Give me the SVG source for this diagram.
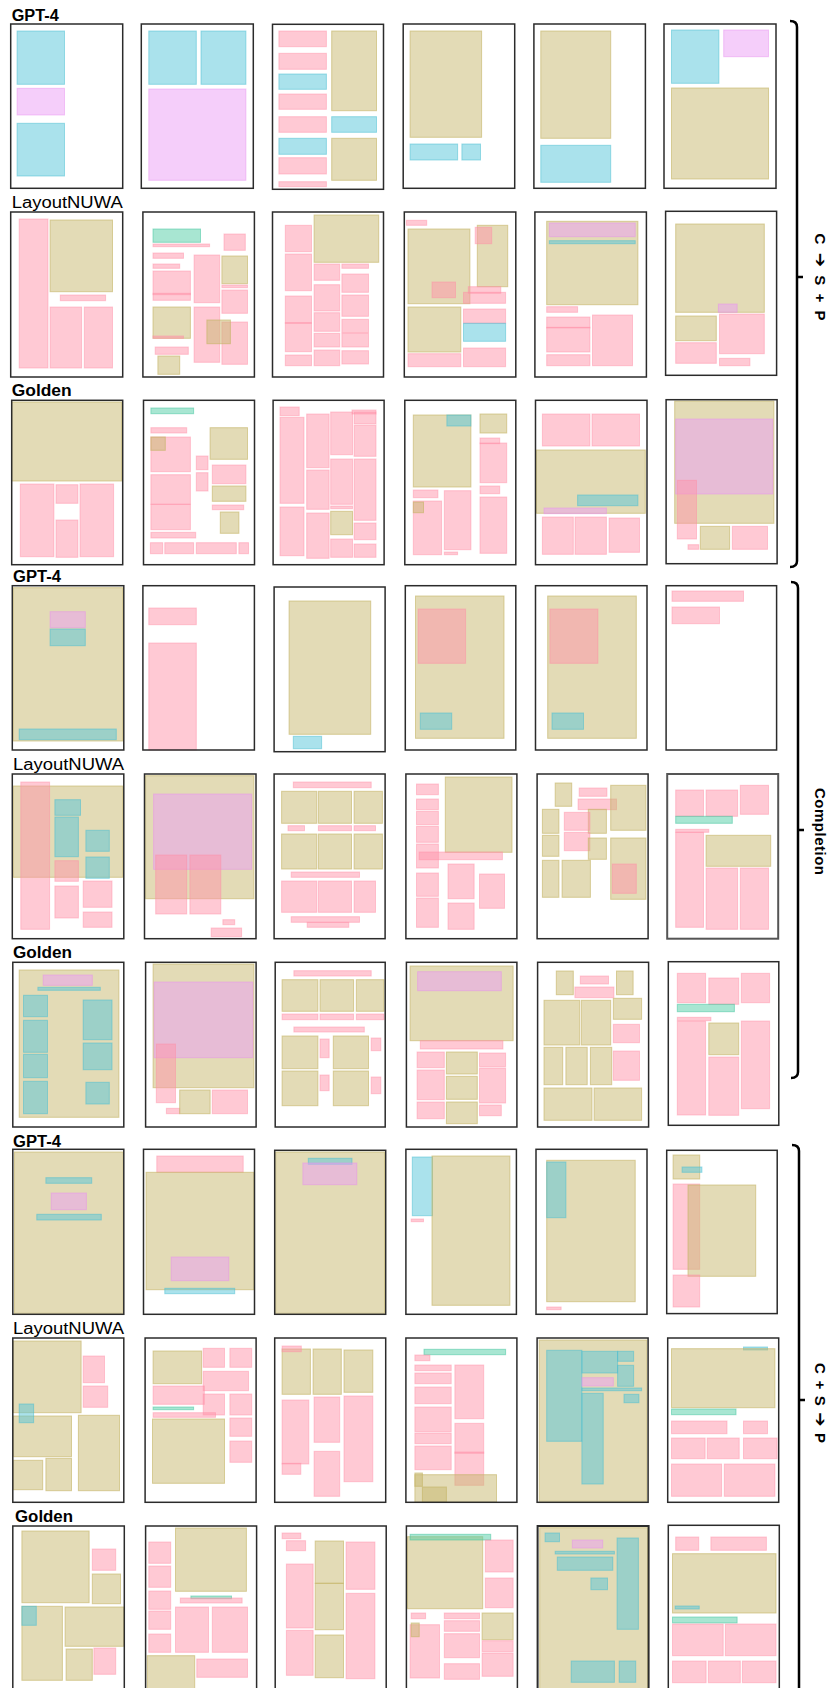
<svg xmlns="http://www.w3.org/2000/svg" width="836" height="1688" viewBox="0 0 836 1688">
<style>
.f{fill:none;stroke:#2b2b2b;stroke-width:1.5}
.t{fill:rgb(200,184,110);fill-opacity:.5;stroke:rgb(196,180,100);stroke-opacity:.6;stroke-width:1}
.p{fill:rgb(255,147,169);fill-opacity:.5;stroke:rgb(255,140,165);stroke-opacity:.45;stroke-width:1}
.b{fill:rgb(85,197,217);fill-opacity:.5;stroke:rgb(70,190,210);stroke-opacity:.5;stroke-width:1}
.m{fill:rgb(235,157,245);fill-opacity:.5;stroke:rgb(230,140,240);stroke-opacity:.45;stroke-width:1}
.g{fill:rgb(81,205,165);fill-opacity:.5;stroke:rgb(60,195,155);stroke-opacity:.5;stroke-width:1}
.lb{font-family:"Liberation Sans","DejaVu Sans",sans-serif;font-size:16px;font-weight:bold;fill:#000}
.ln{font-family:"Liberation Sans","DejaVu Sans",sans-serif;font-size:16px;fill:#000}
.rl{font-family:"Liberation Sans","DejaVu Sans",sans-serif;font-size:15px;font-weight:bold;fill:#000}
.ar{font-family:"DejaVu Sans",sans-serif;font-size:17px;font-weight:bold}
.br{fill:none;stroke:#000;stroke-width:2.5}
</style>
<rect x="0" y="0" width="836" height="1688" fill="#fff"/>

<g id="labels">
<text class="lb" x="11.7" y="20.7" textLength="47" lengthAdjust="spacingAndGlyphs">GPT-4</text>
<text class="ln" x="11.7" y="208" textLength="111" lengthAdjust="spacingAndGlyphs">LayoutNUWA</text>
<text class="lb" x="11.7" y="396" textLength="60" lengthAdjust="spacingAndGlyphs">Golden</text>
<text class="lb" x="13" y="582" textLength="48" lengthAdjust="spacingAndGlyphs">GPT-4</text>
<text class="ln" x="13" y="769.5" textLength="111" lengthAdjust="spacingAndGlyphs">LayoutNUWA</text>
<text class="lb" x="13" y="957.5" textLength="59" lengthAdjust="spacingAndGlyphs">Golden</text>
<text class="lb" x="13" y="1146.5" textLength="48" lengthAdjust="spacingAndGlyphs">GPT-4</text>
<text class="ln" x="13" y="1333.5" textLength="111" lengthAdjust="spacingAndGlyphs">LayoutNUWA</text>
<text class="lb" x="15" y="1521.5" textLength="58" lengthAdjust="spacingAndGlyphs">Golden</text>
</g>

<!-- Row 1 -->
<g id="r1c1"><rect class="b" x="17.1" y="31" width="47.4" height="53.3"/><rect class="m" x="17.1" y="88.3" width="47.4" height="26.7"/><rect class="b" x="17.1" y="123.3" width="47.4" height="52.7"/><rect class="f" x="10.7" y="24" width="112" height="164.3"/></g>
<g id="r1c2"><rect class="b" x="148.8" y="31" width="47.5" height="53.3"/><rect class="b" x="201" y="31" width="44.9" height="53.3"/><rect class="m" x="148.8" y="89" width="97.1" height="91.3"/><rect class="f" x="141.3" y="24" width="112" height="164.3"/></g>
<g id="r1c3"><rect class="p" x="278.9" y="31" width="47.5" height="15.7"/><rect class="p" x="278.9" y="53.3" width="47.5" height="16"/><rect class="b" x="278.9" y="74" width="47.5" height="15.3"/><rect class="p" x="278.9" y="94" width="47.5" height="15.3"/><rect class="p" x="278.9" y="116.7" width="47.5" height="15.6"/><rect class="b" x="278.9" y="138.3" width="47.5" height="16"/><rect class="p" x="278.9" y="157.7" width="47.5" height="16.3"/><rect class="p" x="278.9" y="181.7" width="47.5" height="5"/><rect class="t" x="331.7" y="31" width="44.8" height="79.7"/><rect class="b" x="331.7" y="116.7" width="44.8" height="15.6"/><rect class="t" x="331.7" y="138.3" width="44.8" height="42"/><rect class="f" x="272.5" y="24.3" width="111" height="165"/></g>
<g id="r1c4"><rect class="t" x="410.1" y="31" width="71.5" height="106.3"/><rect class="b" x="410.1" y="144" width="47.5" height="16"/><rect class="b" x="461.9" y="144" width="18.6" height="16"/><rect class="f" x="403.2" y="24" width="111.5" height="164.3"/></g>
<g id="r1c5"><rect class="t" x="540.8" y="31" width="69.9" height="107.3"/><rect class="b" x="540.8" y="145.3" width="69.9" height="37"/><rect class="f" x="533.9" y="24" width="111.5" height="164.3"/></g>
<g id="r1c6"><rect class="b" x="671.5" y="30" width="47.4" height="53.3"/><rect class="m" x="723.7" y="30" width="44.8" height="26.7"/><rect class="t" x="671.5" y="88" width="97" height="91"/><rect class="f" x="664" y="24" width="112" height="164.3"/></g>

<!-- Row 2 -->
<g id="r2c1"><rect class="p" x="19.2" y="219" width="28.8" height="149"/><rect class="t" x="50.1" y="220" width="62.4" height="71.7"/><rect class="p" x="60.3" y="295" width="45.3" height="5.7"/><rect class="p" x="50.1" y="307" width="31.5" height="61"/><rect class="p" x="84.3" y="307" width="28.2" height="61"/><rect class="f" x="10.7" y="212" width="112" height="165"/></g>
<g id="r2c2"><rect class="g" x="153" y="229" width="47.5" height="13.3"/><rect class="p" x="153" y="244" width="56.6" height="2.7"/><rect class="p" x="224" y="234" width="21.3" height="16.3"/><rect class="p" x="153" y="253" width="30.5" height="5.3"/><rect class="p" x="153" y="264" width="26.7" height="4.3"/><rect class="p" x="153" y="271" width="37.4" height="23.7"/><rect class="p" x="153" y="293.3" width="37.4" height="7"/><rect class="p" x="194.1" y="255" width="25.6" height="47.7"/><rect class="t" x="221.9" y="256" width="25.6" height="27.7"/><rect class="p" x="221.9" y="285" width="25.6" height="2.7"/><rect class="p" x="221.9" y="290" width="25.6" height="23.3"/><rect class="t" x="153" y="307" width="37.4" height="31.3"/><rect class="p" x="153" y="336" width="30.5" height="2.3"/><rect class="p" x="194.1" y="307" width="25.6" height="55.3"/><rect class="p" x="221.9" y="322" width="25.6" height="42.3"/><rect class="t" x="206.9" y="320" width="23.5" height="23.7"/><rect class="p" x="155.2" y="347" width="33.1" height="7.3"/><rect class="t" x="157.9" y="356" width="21.8" height="18.3"/><rect class="f" x="142.9" y="212" width="111.5" height="165"/></g>
<g id="r2c3"><rect class="p" x="285.3" y="225.3" width="26.2" height="26.4"/><rect class="t" x="314.1" y="215" width="64.6" height="47.3"/><rect class="p" x="285.3" y="254" width="26.2" height="36.7"/><rect class="p" x="314.1" y="264" width="25.6" height="16.3"/><rect class="p" x="341.9" y="264" width="26.6" height="4.3"/><rect class="p" x="341.9" y="274" width="26.6" height="18.3"/><rect class="p" x="314.1" y="284.7" width="25.6" height="26.3"/><rect class="p" x="341.9" y="295" width="26.6" height="21.3"/><rect class="p" x="285.3" y="296" width="26.2" height="27.3"/><rect class="p" x="285.3" y="322.7" width="26.2" height="29"/><rect class="p" x="314.1" y="312.7" width="25.6" height="18.6"/><rect class="p" x="341.9" y="319.3" width="26.6" height="13.4"/><rect class="p" x="314.1" y="333.3" width="25.6" height="13.7"/><rect class="p" x="341.9" y="333.3" width="26.6" height="13.7"/><rect class="p" x="314.1" y="350" width="25.6" height="15.7"/><rect class="p" x="341.9" y="350.7" width="26.6" height="13.3"/><rect class="p" x="285.3" y="355" width="26.2" height="10.7"/><rect class="f" x="272.5" y="212" width="111" height="165"/></g>
<g id="r2c4"><rect class="p" x="406.4" y="220.3" width="20.3" height="5"/><rect class="t" x="408" y="229" width="61.9" height="74.7"/><rect class="t" x="477.3" y="225.3" width="30.4" height="61.4"/><rect class="p" x="475.2" y="227.3" width="16.5" height="16.4"/><rect class="p" x="432" y="282" width="23.5" height="15.7"/><rect class="p" x="468.3" y="286.7" width="32.5" height="6.6"/><rect class="p" x="463.5" y="292.3" width="42.1" height="11"/><rect class="t" x="408" y="307" width="52.8" height="45"/><rect class="p" x="463.5" y="309" width="42.1" height="14.3"/><rect class="b" x="463.5" y="323.3" width="42.1" height="18"/><rect class="p" x="408" y="353.7" width="52.8" height="13"/><rect class="p" x="463.5" y="348" width="42.1" height="18.7"/><rect class="f" x="404.3" y="212" width="111.5" height="165"/></g>
<g id="r2c5"><rect class="t" x="546.7" y="221.3" width="91.2" height="83.4"/><rect class="m" x="549.3" y="223" width="85.9" height="13.7"/><rect class="b" x="549.3" y="240.7" width="85.9" height="3"/><rect class="p" x="546.7" y="306.7" width="30.9" height="5.6"/><rect class="p" x="546.7" y="317" width="43.2" height="11"/><rect class="p" x="546.7" y="327.3" width="43.2" height="24.7"/><rect class="p" x="592.5" y="315" width="40" height="50.7"/><rect class="p" x="546.7" y="354.7" width="43.2" height="11"/><rect class="f" x="534.9" y="212" width="111.5" height="165"/></g>
<g id="r2c6"><rect class="t" x="675.7" y="224" width="88.6" height="88.3"/><rect class="m" x="718.4" y="304" width="18.7" height="8.3"/><rect class="t" x="675.7" y="316" width="40.6" height="24.7"/><rect class="p" x="719.5" y="314" width="44.8" height="39.7"/><rect class="p" x="675.7" y="342.7" width="40.6" height="20.6"/><rect class="p" x="719.5" y="358.3" width="30.4" height="7.4"/><rect class="f" x="665.6" y="211.3" width="111" height="164"/></g>

<!-- Row 3 -->
<g id="r3c1"><rect class="t" x="11.7" y="402" width="109.9" height="79"/><rect class="p" x="20.3" y="484" width="33.6" height="72.7"/><rect class="p" x="56" y="484.7" width="21.9" height="18.6"/><rect class="p" x="56" y="520" width="21.9" height="37.3"/><rect class="p" x="80" y="484" width="33.6" height="72.7"/><rect class="f" x="11.7" y="400.3" width="111" height="164.4"/></g>
<g id="r3c2"><rect class="g" x="150.9" y="408" width="42.7" height="5.7"/><rect class="p" x="150.9" y="427.7" width="35.8" height="5.3"/><rect class="p" x="150.9" y="437" width="39.5" height="34.7"/><rect class="t" x="150.9" y="437" width="14.4" height="13.3"/><rect class="t" x="210.1" y="427.7" width="37.4" height="31.6"/><rect class="p" x="196.3" y="456" width="11.7" height="13.7"/><rect class="p" x="212.3" y="465" width="33.6" height="18.7"/><rect class="p" x="196.3" y="472.7" width="11.7" height="18.3"/><rect class="p" x="150.9" y="474.7" width="39.5" height="29.6"/><rect class="p" x="150.9" y="504.3" width="39.5" height="25.4"/><rect class="t" x="212.3" y="486" width="33.6" height="15.3"/><rect class="p" x="212.3" y="505" width="31.4" height="4.7"/><rect class="t" x="220.3" y="512" width="18.6" height="21.3"/><rect class="p" x="150.9" y="532.3" width="44.8" height="5.7"/><rect class="p" x="150.4" y="542.7" width="12.3" height="11"/><rect class="p" x="164.8" y="542.7" width="28.8" height="11"/><rect class="p" x="196.3" y="542.7" width="40" height="11"/><rect class="p" x="238.9" y="542.7" width="9.6" height="11"/><rect class="f" x="143.5" y="400.3" width="111" height="164.4"/></g>
<g id="r3c3"><rect class="p" x="280" y="407" width="19.2" height="8.7"/><rect class="p" x="280" y="417.3" width="24" height="86"/><rect class="p" x="306.7" y="414" width="22.4" height="53.7"/><rect class="p" x="330.7" y="412" width="21.8" height="42.7"/><rect class="p" x="352" y="410" width="24" height="4"/><rect class="p" x="354.1" y="412" width="21.9" height="12"/><rect class="p" x="354.1" y="425.3" width="21.9" height="31"/><rect class="p" x="306.7" y="470" width="22.4" height="39.3"/><rect class="p" x="330.7" y="459" width="21.8" height="45.3"/><rect class="p" x="354.1" y="459" width="21.9" height="61.3"/><rect class="p" x="330.7" y="506" width="21.8" height="2.7"/><rect class="p" x="280" y="507" width="24" height="48.7"/><rect class="p" x="306.7" y="513" width="22.4" height="45.3"/><rect class="t" x="330.7" y="511.3" width="21.8" height="23.4"/><rect class="p" x="354.1" y="523" width="21.9" height="16.7"/><rect class="p" x="330.7" y="539" width="21.8" height="18.3"/><rect class="p" x="354.1" y="544" width="21.9" height="13.3"/><rect class="f" x="273.1" y="400.3" width="111" height="164.4"/></g>
<g id="r3c4"><rect class="t" x="413.3" y="415" width="57.6" height="72"/><rect class="b" x="446.9" y="415" width="24" height="11"/><rect class="t" x="480" y="414" width="26.7" height="19"/><rect class="p" x="480" y="438" width="19.7" height="5.7"/><rect class="p" x="480" y="443" width="26.7" height="39.7"/><rect class="p" x="413.3" y="490" width="24.6" height="7.7"/><rect class="p" x="444.3" y="490.7" width="26.6" height="59"/><rect class="p" x="480" y="486" width="19.7" height="7.7"/><rect class="p" x="480" y="497" width="26.7" height="56.3"/><rect class="p" x="413.3" y="501" width="28.3" height="53.7"/><rect class="t" x="413.3" y="502" width="10.2" height="10.7"/><rect class="p" x="444.3" y="552" width="13.3" height="2.7"/><rect class="f" x="404.8" y="400.3" width="111" height="164.4"/></g>
<g id="r3c5"><rect class="p" x="542.4" y="414" width="47.5" height="32"/><rect class="p" x="592" y="414" width="47.5" height="32"/><rect class="t" x="536.5" y="450" width="108.8" height="63.3"/><rect class="b" x="577.6" y="495" width="60.3" height="10.7"/><rect class="m" x="544" y="508" width="62.4" height="5.7"/><rect class="p" x="542.4" y="517" width="30.9" height="37.3"/><rect class="p" x="575" y="517" width="31.4" height="37.3"/><rect class="p" x="609.1" y="518" width="30.4" height="34.3"/><rect class="f" x="535.5" y="400.3" width="111.5" height="164.4"/></g>
<g id="r3c6"><rect class="t" x="674.7" y="401" width="99.2" height="122.3"/><rect class="m" x="675.7" y="419" width="97.1" height="75"/><rect class="p" x="677.3" y="480.3" width="19.2" height="58.7"/><rect class="t" x="700.3" y="526.3" width="29.3" height="23"/><rect class="p" x="732.3" y="526.3" width="35.2" height="23"/><rect class="p" x="688" y="544.7" width="10.7" height="4.6"/><rect class="f" x="666.1" y="399.7" width="111" height="164"/></g>

<!-- Row 4 -->
<g id="r4c1"><rect class="t" x="13.3" y="587.7" width="109.4" height="153.3"/><rect class="m" x="50.1" y="611.7" width="35.2" height="16"/><rect class="b" x="50.1" y="629" width="35.2" height="16.7"/><rect class="b" x="19.2" y="729" width="97.1" height="10.7"/><rect class="f" x="12.3" y="585.7" width="111.5" height="164.3"/></g>
<g id="r4c2"><rect class="p" x="148.8" y="608" width="47.5" height="16.7"/><rect class="p" x="148.8" y="643" width="47.5" height="107"/><rect class="f" x="142.9" y="585.7" width="111.5" height="164.3"/></g>
<g id="r4c3"><rect class="t" x="289.1" y="601" width="81.6" height="133.3"/><rect class="b" x="293.3" y="736.3" width="28.3" height="12.4"/><rect class="f" x="274.1" y="587" width="111" height="164.7"/></g>
<g id="r4c4"><rect class="t" x="415.5" y="596" width="88.5" height="142.3"/><rect class="p" x="418.1" y="609" width="47.5" height="54.3"/><rect class="b" x="420.3" y="713" width="31.4" height="16.3"/><rect class="f" x="405.3" y="585.7" width="110.5" height="164.3"/></g>
<g id="r4c5"><rect class="t" x="547.7" y="596" width="88.6" height="142.3"/><rect class="p" x="549.9" y="609" width="48" height="54.3"/><rect class="b" x="552" y="713" width="31.5" height="16.3"/><rect class="f" x="535.5" y="585.7" width="111.5" height="164.3"/></g>
<g id="r4c6"><rect class="p" x="672" y="591" width="71.5" height="10.3"/><rect class="p" x="672" y="607" width="47.5" height="16.7"/><rect class="f" x="666.1" y="585.7" width="110.5" height="164.3"/></g>

<!-- Row 5 -->
<g id="r5c1"><rect class="t" x="13.3" y="786" width="109.4" height="91.3"/><rect class="p" x="20.8" y="782" width="28.8" height="147.3"/><rect class="b" x="54.9" y="799.7" width="25.6" height="15.6"/><rect class="b" x="54.9" y="817" width="23.5" height="39.7"/><rect class="b" x="85.9" y="830.3" width="23.4" height="21"/><rect class="p" x="54.9" y="860.7" width="23.5" height="20.6"/><rect class="b" x="85.9" y="857" width="23.4" height="21.3"/><rect class="p" x="54.9" y="886" width="23.5" height="32"/><rect class="p" x="83.2" y="881" width="28.8" height="26.3"/><rect class="p" x="83.2" y="912" width="28.8" height="15.3"/><rect class="f" x="12.3" y="774" width="111.5" height="164.7"/></g>
<g id="r5c2"><rect class="t" x="145.6" y="775.7" width="108.3" height="123"/><rect class="m" x="153.6" y="794" width="98.1" height="75.3"/><rect class="p" x="155.7" y="855" width="31" height="59"/><rect class="p" x="189.9" y="855" width="30.9" height="59"/><rect class="p" x="222.9" y="919.7" width="11.8" height="5"/><rect class="p" x="211.2" y="928" width="30.4" height="8.7"/><rect class="f" x="144.5" y="774" width="111.5" height="164.7"/></g>
<g id="r5c3"><rect class="p" x="293.3" y="782" width="77.9" height="5.7"/><rect class="t" x="281.6" y="791.3" width="35.2" height="32"/><rect class="t" x="318.4" y="791.3" width="33.1" height="32"/><rect class="t" x="354.1" y="791.3" width="28.3" height="32"/><rect class="p" x="288" y="825.7" width="16.5" height="5"/><rect class="p" x="318.4" y="825.7" width="33.1" height="5"/><rect class="p" x="354.1" y="825.7" width="21.4" height="5"/><rect class="t" x="281.6" y="834" width="35.2" height="35"/><rect class="t" x="318.4" y="834" width="33.1" height="35"/><rect class="t" x="354.1" y="834" width="28.3" height="35"/><rect class="p" x="291.2" y="872" width="68.3" height="5.3"/><rect class="p" x="281.6" y="881" width="35.2" height="31.3"/><rect class="p" x="318.4" y="881" width="33.1" height="31.3"/><rect class="p" x="354.1" y="881" width="21.4" height="31.3"/><rect class="p" x="291.2" y="916.7" width="68.3" height="5.6"/><rect class="p" x="307.2" y="922.3" width="41.6" height="5"/><rect class="f" x="274.1" y="774" width="111" height="164.7"/></g>
<g id="r5c4"><rect class="p" x="416.5" y="784" width="21.9" height="10.7"/><rect class="t" x="445.3" y="777" width="66.7" height="75.3"/><rect class="p" x="416.5" y="799" width="21.9" height="10.7"/><rect class="p" x="416.5" y="811.3" width="21.9" height="13.4"/><rect class="p" x="416.5" y="826.3" width="21.9" height="16"/><rect class="p" x="416.5" y="844" width="21.9" height="24"/><rect class="p" x="419.2" y="852" width="83.2" height="7.7"/><rect class="p" x="416.5" y="873" width="21.9" height="23.3"/><rect class="p" x="416.5" y="898" width="21.9" height="29.3"/><rect class="p" x="448" y="864" width="26.1" height="34.7"/><rect class="p" x="479.5" y="874" width="25" height="34.3"/><rect class="p" x="448" y="903" width="26.1" height="26.3"/><rect class="f" x="405.9" y="774" width="111" height="164.7"/></g>
<g id="r5c5"><rect class="t" x="555.2" y="783" width="16.5" height="23.3"/><rect class="p" x="579.2" y="788" width="27.7" height="8.3"/><rect class="p" x="578.1" y="799" width="38.4" height="10.7"/><rect class="t" x="610.7" y="785.3" width="35.2" height="45"/><rect class="t" x="542.4" y="809.3" width="16.5" height="24"/><rect class="t" x="588.3" y="809.3" width="18.1" height="24"/><rect class="p" x="564.3" y="812.3" width="25.6" height="18"/><rect class="t" x="542.4" y="835.3" width="16.5" height="21"/><rect class="p" x="564.3" y="832.3" width="25.6" height="18.4"/><rect class="t" x="588.3" y="838" width="18.1" height="21.3"/><rect class="t" x="610.7" y="838" width="35.2" height="61.3"/><rect class="p" x="612.3" y="864" width="24" height="29.3"/><rect class="t" x="542.4" y="860.3" width="16.5" height="37"/><rect class="t" x="562.1" y="860.3" width="28.3" height="37"/><rect class="f" x="537.1" y="774" width="111" height="164.7"/></g>
<g id="r5c6"><rect class="p" x="675.7" y="790" width="27.8" height="26.3"/><rect class="p" x="706.1" y="790" width="31.5" height="26.3"/><rect class="p" x="740.3" y="785.3" width="28.2" height="29"/><rect class="g" x="675.7" y="816.3" width="56.6" height="7"/><rect class="p" x="675.7" y="829.3" width="33.1" height="3"/><rect class="p" x="675.7" y="832.3" width="27.8" height="95"/><rect class="t" x="706.1" y="835.3" width="64.6" height="31"/><rect class="p" x="706.1" y="868" width="31.5" height="61.3"/><rect class="p" x="740.3" y="868" width="28.2" height="61.3"/><rect class="f" x="667.2" y="774" width="111" height="164.7" style="stroke:#555;stroke-width:2"/></g>

<!-- Row 6 -->
<g id="r6c1"><rect class="t" x="19.2" y="970" width="99.7" height="147.3"/><rect class="m" x="43.2" y="975" width="49.1" height="10.3"/><rect class="b" x="37.9" y="987.3" width="62.4" height="3"/><rect class="b" x="23.5" y="995.3" width="24" height="21.4"/><rect class="b" x="23.5" y="1020.3" width="24" height="32"/><rect class="b" x="23.5" y="1054.3" width="24" height="23.4"/><rect class="b" x="23.5" y="1081.3" width="24" height="32.4"/><rect class="b" x="83.2" y="1000" width="28.8" height="39.7"/><rect class="b" x="83.2" y="1043" width="28.8" height="26.7"/><rect class="b" x="85.9" y="1082.3" width="23.4" height="21.7"/><rect class="f" x="12.8" y="962.3" width="111" height="164.7"/></g>
<g id="r6c2"><rect class="t" x="153.1" y="964" width="100.8" height="123.7"/><rect class="m" x="154.1" y="982" width="98.7" height="75.7"/><rect class="p" x="156.3" y="1044" width="19.2" height="58.7"/><rect class="p" x="166.4" y="1108.3" width="13.3" height="5.4"/><rect class="t" x="179.7" y="1090" width="30.4" height="23.7"/><rect class="p" x="212.3" y="1090" width="35.2" height="23.7"/><rect class="f" x="145.6" y="962.3" width="110.5" height="164.7"/></g>
<g id="r6c3"><rect class="p" x="293.9" y="970.7" width="77.3" height="5.3"/><rect class="t" x="282.1" y="979.7" width="35.8" height="31.6"/><rect class="t" x="320" y="979.7" width="33.6" height="31.6"/><rect class="t" x="356.3" y="979.7" width="27.7" height="31.6"/><rect class="p" x="282.1" y="1014" width="35.8" height="5.7"/><rect class="p" x="320" y="1014" width="33.6" height="5.7"/><rect class="p" x="356.3" y="1014" width="27.7" height="5.7"/><rect class="p" x="293.9" y="1027" width="70.4" height="5"/><rect class="t" x="282.1" y="1036" width="35.8" height="32.7"/><rect class="p" x="320" y="1039" width="9.1" height="18.7"/><rect class="t" x="333.3" y="1036" width="35.2" height="32.7"/><rect class="p" x="371.2" y="1038" width="9.6" height="12.7"/><rect class="t" x="282.1" y="1071" width="35.8" height="34.7"/><rect class="p" x="320" y="1075" width="9.1" height="15.7"/><rect class="t" x="333.3" y="1071" width="35.2" height="34.7"/><rect class="p" x="371.2" y="1077" width="9.6" height="16.7"/><rect class="f" x="275.2" y="962.3" width="110" height="164.7"/></g>
<g id="r6c4"><rect class="t" x="410.1" y="966" width="103" height="74.7"/><rect class="m" x="417.6" y="971.7" width="83.7" height="19"/><rect class="p" x="420.3" y="1040.7" width="82.6" height="8.3"/><rect class="p" x="417.1" y="1052" width="27.2" height="15.7"/><rect class="t" x="446.4" y="1052" width="30.9" height="22"/><rect class="p" x="479.5" y="1053" width="26.1" height="13.7"/><rect class="p" x="417.1" y="1070" width="27.2" height="29.7"/><rect class="t" x="446.4" y="1076.3" width="30.9" height="23"/><rect class="p" x="479.5" y="1068" width="26.1" height="35"/><rect class="p" x="417.1" y="1102" width="27.2" height="16.7"/><rect class="t" x="446.4" y="1102" width="30.9" height="21.7"/><rect class="p" x="479.5" y="1105" width="21.8" height="10.7"/><rect class="f" x="406.4" y="962.3" width="110.5" height="164.7"/></g>
<g id="r6c5"><rect class="t" x="556.3" y="971" width="17" height="23.7"/><rect class="p" x="580.3" y="976" width="28.2" height="8"/><rect class="t" x="616.5" y="971" width="16.6" height="23.7"/><rect class="p" x="574.9" y="987" width="39" height="10.7"/><rect class="t" x="544" y="1000.3" width="35.7" height="44.7"/><rect class="t" x="581.3" y="1000.3" width="29.4" height="44.7"/><rect class="t" x="613.3" y="998.3" width="28.3" height="21"/><rect class="p" x="613.3" y="1024.3" width="26.2" height="18.4"/><rect class="t" x="544" y="1047.3" width="18.7" height="37.4"/><rect class="t" x="565.9" y="1047.3" width="21.3" height="37.4"/><rect class="t" x="590.4" y="1047.3" width="21.3" height="37.4"/><rect class="p" x="613.3" y="1051" width="26.2" height="29.3"/><rect class="t" x="544" y="1088" width="48" height="32.3"/><rect class="t" x="594.1" y="1088" width="47.5" height="32.3"/><rect class="f" x="537.6" y="962.3" width="111" height="164.7"/></g>
<g id="r6c6"><rect class="p" x="677.3" y="973.3" width="28.3" height="29.4"/><rect class="p" x="708.8" y="978" width="29.9" height="26.3"/><rect class="p" x="741.3" y="973.3" width="28.3" height="29.4"/><rect class="g" x="677.3" y="1004.3" width="57.1" height="7.4"/><rect class="p" x="677.3" y="1017.3" width="33.6" height="3.4"/><rect class="p" x="677.3" y="1021.3" width="28.3" height="93.7"/><rect class="t" x="708.8" y="1023" width="29.9" height="31.7"/><rect class="p" x="708.8" y="1057" width="29.9" height="58.3"/><rect class="p" x="741.3" y="1021" width="28.3" height="87.7"/><rect class="f" x="668.3" y="961.7" width="110.5" height="163.6"/></g>

<!-- Row 7 -->
<g id="r7c1"><rect class="t" x="14.4" y="1152" width="108.8" height="161.3"/><rect class="b" x="45.9" y="1177.7" width="45.8" height="5.6"/><rect class="m" x="51.2" y="1193" width="35.2" height="16.7"/><rect class="b" x="36.8" y="1214.3" width="64.5" height="5.7"/><rect class="f" x="12.8" y="1149.3" width="111" height="165"/></g>
<g id="r7c2"><rect class="p" x="156.8" y="1156" width="86.4" height="16.3"/><rect class="t" x="146.1" y="1172.3" width="107.8" height="117.4"/><rect class="m" x="171.2" y="1257" width="57.6" height="23.7"/><rect class="b" x="164.8" y="1288.3" width="69.9" height="5.4"/><rect class="f" x="143.5" y="1149.3" width="111" height="165"/></g>
<g id="r7c3"><rect class="t" x="275.7" y="1152" width="108.8" height="161.3"/><rect class="b" x="308.3" y="1158.3" width="43.7" height="6"/><rect class="m" x="302.9" y="1163" width="53.9" height="21.7"/><rect class="f" x="274.7" y="1150.3" width="111" height="164"/></g>
<g id="r7c4"><rect class="b" x="412.3" y="1157" width="20.2" height="58.7"/><rect class="t" x="432" y="1156" width="77.9" height="149.3"/><rect class="p" x="411.2" y="1219" width="12.3" height="2.7"/><rect class="f" x="405.9" y="1149.3" width="110.5" height="165"/></g>
<g id="r7c5"><rect class="t" x="546.7" y="1160.3" width="88.5" height="141.4"/><rect class="b" x="546.7" y="1162" width="19.2" height="55.7"/><rect class="p" x="546.7" y="1307" width="14.4" height="2.7"/><rect class="f" x="536" y="1149.3" width="111" height="165"/></g>
<g id="r7c6"><rect class="t" x="673.1" y="1155" width="26.6" height="24"/><rect class="b" x="682.1" y="1167" width="19.8" height="5.3"/><rect class="p" x="673.1" y="1184" width="26.6" height="85.3"/><rect class="t" x="688" y="1185" width="67.7" height="91.3"/><rect class="p" x="673.1" y="1275" width="26.6" height="32"/><rect class="f" x="666.7" y="1150.3" width="110.5" height="163.3"/></g>

<!-- Row 8 -->
<g id="r8c1"><rect class="t" x="13.3" y="1341" width="67.8" height="71.7"/><rect class="p" x="83.2" y="1356" width="21.3" height="26.7"/><rect class="p" x="83.2" y="1386" width="24.5" height="21.3"/><rect class="t" x="13.3" y="1416" width="58.2" height="40.7"/><rect class="t" x="78.4" y="1415.3" width="41.1" height="75.4"/><rect class="t" x="13.3" y="1460.3" width="29.4" height="29.4"/><rect class="t" x="45.9" y="1458.3" width="25.6" height="32.4"/><rect class="b" x="19.2" y="1404" width="14.4" height="18.7"/><rect class="f" x="12.8" y="1338" width="111" height="164.3"/></g>
<g id="r8c2"><rect class="t" x="153.1" y="1351" width="48.5" height="32.7"/><rect class="p" x="203.2" y="1348.3" width="21.3" height="19"/><rect class="p" x="229.9" y="1348.3" width="21.8" height="19"/><rect class="p" x="203.2" y="1371.3" width="45.3" height="19.4"/><rect class="p" x="153.1" y="1386" width="51.2" height="18.3"/><rect class="p" x="203.2" y="1394" width="21.3" height="21"/><rect class="p" x="229.9" y="1394" width="21.8" height="21"/><rect class="g" x="153.1" y="1407" width="40.5" height="2.7"/><rect class="p" x="153.1" y="1412.7" width="62.4" height="4.6"/><rect class="t" x="152.5" y="1419" width="72" height="64.3"/><rect class="p" x="229.9" y="1418" width="21.8" height="18.3"/><rect class="p" x="229.9" y="1441" width="21.8" height="21.3"/><rect class="f" x="145.1" y="1338" width="111" height="164.3"/></g>
<g id="r8c3"><rect class="t" x="282.1" y="1349" width="28.3" height="45.3"/><rect class="p" x="282.1" y="1346" width="19.2" height="5.7"/><rect class="t" x="313.1" y="1349" width="28.2" height="45.3"/><rect class="t" x="344" y="1350" width="28.8" height="42.3"/><rect class="p" x="282.1" y="1400" width="26.7" height="64"/><rect class="p" x="282.1" y="1463.3" width="18.7" height="11"/><rect class="p" x="314.1" y="1397" width="25.6" height="45.3"/><rect class="p" x="344" y="1396" width="28.8" height="85.7"/><rect class="p" x="314.1" y="1451.3" width="25.6" height="45"/><rect class="f" x="274.7" y="1338" width="111" height="164.3"/></g>
<g id="r8c4"><rect class="g" x="424" y="1349.3" width="81.6" height="5.4"/><rect class="p" x="414.9" y="1355" width="15" height="5.7"/><rect class="p" x="414.9" y="1365" width="36.3" height="5.7"/><rect class="p" x="414.9" y="1373" width="36.3" height="10.7"/><rect class="p" x="414.9" y="1387" width="36.3" height="16.7"/><rect class="p" x="414.9" y="1407" width="36.3" height="24.7"/><rect class="p" x="414.9" y="1433" width="36.3" height="10.7"/><rect class="p" x="414.9" y="1446" width="36.3" height="23.7"/><rect class="p" x="454.9" y="1365" width="28.8" height="53.7"/><rect class="p" x="454.9" y="1423.3" width="28.8" height="30"/><rect class="p" x="454.9" y="1452" width="28.8" height="33.3"/><rect class="t" x="414.9" y="1474.7" width="81.6" height="27.6"/><rect class="t" x="414.9" y="1473" width="7.5" height="13.3"/><rect class="t" x="422.4" y="1487" width="24" height="15.3"/><rect class="f" x="405.9" y="1338" width="111" height="164.3"/></g>
<g id="r8c5"><rect class="t" x="539.2" y="1340" width="107.7" height="161.3"/><rect class="b" x="546.7" y="1350.3" width="35.2" height="91"/><rect class="b" x="581.9" y="1351.3" width="35.7" height="21.7"/><rect class="b" x="617.6" y="1351.3" width="16" height="10"/><rect class="b" x="617.6" y="1365.3" width="16" height="21"/><rect class="m" x="581.9" y="1377.7" width="31.4" height="8.3"/><rect class="b" x="581.9" y="1388" width="59.7" height="2.7"/><rect class="b" x="581.9" y="1393.3" width="21.3" height="90.7"/><rect class="b" x="624" y="1394.3" width="14.9" height="8.4"/><rect class="f" x="537.1" y="1338" width="111" height="164.3"/></g>
<g id="r8c6"><rect class="b" x="743.5" y="1347" width="24" height="3"/><rect class="t" x="671.5" y="1348.7" width="103.4" height="59"/><rect class="g" x="671.5" y="1409" width="64.5" height="5.7"/><rect class="p" x="671.5" y="1421" width="55.5" height="12.7"/><rect class="p" x="743.5" y="1421" width="24" height="12.7"/><rect class="p" x="671.5" y="1438" width="33.6" height="20.7"/><rect class="p" x="707.2" y="1438" width="32" height="20.7"/><rect class="p" x="743.5" y="1438" width="33.6" height="20.7"/><rect class="p" x="671.5" y="1464" width="50.1" height="32.3"/><rect class="p" x="724.3" y="1464" width="50.6" height="32.3"/><rect class="f" x="667.7" y="1338" width="111" height="164.3"/></g>

<!-- Row 9 -->
<g id="r9c1"><rect class="t" x="21.9" y="1531" width="67.2" height="71.7"/><rect class="p" x="92.3" y="1549" width="23.4" height="21.3"/><rect class="t" x="92.3" y="1574" width="28.2" height="29.7"/><rect class="t" x="21.9" y="1606.3" width="40.5" height="74"/><rect class="b" x="21.9" y="1606.3" width="14.4" height="19"/><rect class="t" x="65.1" y="1607" width="58.6" height="39.3"/><rect class="t" x="66.1" y="1649" width="26.2" height="31.3"/><rect class="p" x="93.9" y="1648" width="21.8" height="26.3"/><rect class="f" x="12.8" y="1526" width="111.5" height="170"/></g>
<g id="r9c2"><rect class="t" x="175.5" y="1528" width="70.9" height="63.3"/><rect class="p" x="148.8" y="1542" width="21.9" height="21.3"/><rect class="p" x="148.8" y="1566" width="21.9" height="21.3"/><rect class="p" x="148.8" y="1591" width="21.9" height="18.3"/><rect class="g" x="190.9" y="1596" width="40.6" height="2.7"/><rect class="p" x="180.3" y="1598" width="61.8" height="5"/><rect class="p" x="148.8" y="1611" width="21.9" height="18.3"/><rect class="p" x="175.5" y="1607" width="33" height="45.3"/><rect class="p" x="212.3" y="1607" width="35.2" height="45.3"/><rect class="p" x="148.8" y="1634" width="21.9" height="18.3"/><rect class="t" x="147.2" y="1655.7" width="47.5" height="33"/><rect class="p" x="196.8" y="1659" width="50.7" height="18.3"/><rect class="f" x="145.6" y="1526" width="111" height="170"/></g>
<g id="r9c3"><rect class="p" x="282.1" y="1533" width="18.7" height="5.7"/><rect class="p" x="286.4" y="1540.7" width="19.2" height="10"/><rect class="t" x="315.2" y="1541" width="28.3" height="42.3"/><rect class="p" x="346.1" y="1542" width="28.8" height="47.3"/><rect class="p" x="286.4" y="1564" width="26.7" height="64"/><rect class="t" x="315.2" y="1583.3" width="28.3" height="46.4"/><rect class="p" x="346.1" y="1593.3" width="28.8" height="85.4"/><rect class="p" x="286.4" y="1630.3" width="26.7" height="45"/><rect class="t" x="315.2" y="1635" width="28.3" height="42.7"/><rect class="f" x="275.2" y="1526" width="111" height="170"/></g>
<g id="r9c4"><rect class="t" x="407.5" y="1536.7" width="75.2" height="72"/><rect class="g" x="410.1" y="1534.3" width="80.6" height="5.7"/><rect class="p" x="485.3" y="1540" width="27.8" height="32"/><rect class="p" x="485.3" y="1578" width="27.8" height="29.7"/><rect class="p" x="411.2" y="1613" width="14.4" height="5.7"/><rect class="p" x="444.3" y="1613" width="35.2" height="5.7"/><rect class="t" x="482.1" y="1613" width="31" height="26.7"/><rect class="p" x="444.3" y="1620.7" width="35.2" height="10.6"/><rect class="p" x="410.1" y="1624.7" width="29.4" height="53.3"/><rect class="t" x="411.2" y="1623" width="8" height="13.7"/><rect class="p" x="444.3" y="1633.7" width="35.2" height="24"/><rect class="p" x="482.1" y="1640.7" width="31" height="11"/><rect class="p" x="482.1" y="1653" width="31" height="23.3"/><rect class="p" x="444.3" y="1663.7" width="35.2" height="15.6"/><rect class="f" x="406.4" y="1526" width="111" height="170"/></g>
<g id="r9c5"><rect class="t" x="539.7" y="1527.7" width="107.8" height="162"/><rect class="b" x="545.1" y="1533" width="14.4" height="8.7"/><rect class="m" x="572.3" y="1540" width="30.4" height="8"/><rect class="b" x="555.2" y="1551.3" width="59.2" height="2.7"/><rect class="b" x="557.3" y="1557" width="55.5" height="13.3"/><rect class="b" x="617.1" y="1538" width="21.3" height="91.3"/><rect class="b" x="590.9" y="1578" width="16.6" height="11.7"/><rect class="b" x="571.2" y="1661" width="43.2" height="21.3"/><rect class="b" x="619.2" y="1661" width="16.5" height="21.3"/><rect class="f" x="537.6" y="1526" width="111" height="170" style="stroke-width:2"/></g>
<g id="r9c6"><rect class="p" x="675.7" y="1537" width="23" height="13.3"/><rect class="p" x="710.9" y="1537" width="55.5" height="13.3"/><rect class="t" x="672.5" y="1553.7" width="103.5" height="59.3"/><rect class="b" x="675.2" y="1606" width="24" height="3"/><rect class="g" x="672.5" y="1617" width="64.6" height="6"/><rect class="p" x="672.5" y="1624" width="50.7" height="31.7"/><rect class="p" x="725.3" y="1624" width="50.7" height="31.7"/><rect class="p" x="672.5" y="1661" width="33.6" height="21.7"/><rect class="p" x="708.3" y="1661" width="32" height="21.7"/><rect class="p" x="742.4" y="1661" width="33.6" height="21.7"/><rect class="f" x="668.3" y="1525.3" width="111" height="170"/></g>

<g id="brackets">
<path class="br" d="M790,21 Q797,21 797,27 L797,561 Q797,567 790,567 M797,277 L803,277"/>
<path class="br" d="M791,582 Q798,582 798,588 L798,1072 Q798,1078 791,1078 M798,830 L804,830"/>
<path class="br" d="M792,1145 Q799,1145 799,1151 L799,1700 M799,1400 L805,1400"/>
<text class="rl" transform="translate(815,277) rotate(90)" text-anchor="middle" textLength="87">C <tspan class="ar">➔</tspan> S + P</text>
<text class="rl" transform="translate(815,831.5) rotate(90)" text-anchor="middle" textLength="87">Completion</text>
<text class="rl" transform="translate(815,1403) rotate(90)" text-anchor="middle" textLength="80">C + S <tspan class="ar">➔</tspan> P</text>
</g>
</svg>
